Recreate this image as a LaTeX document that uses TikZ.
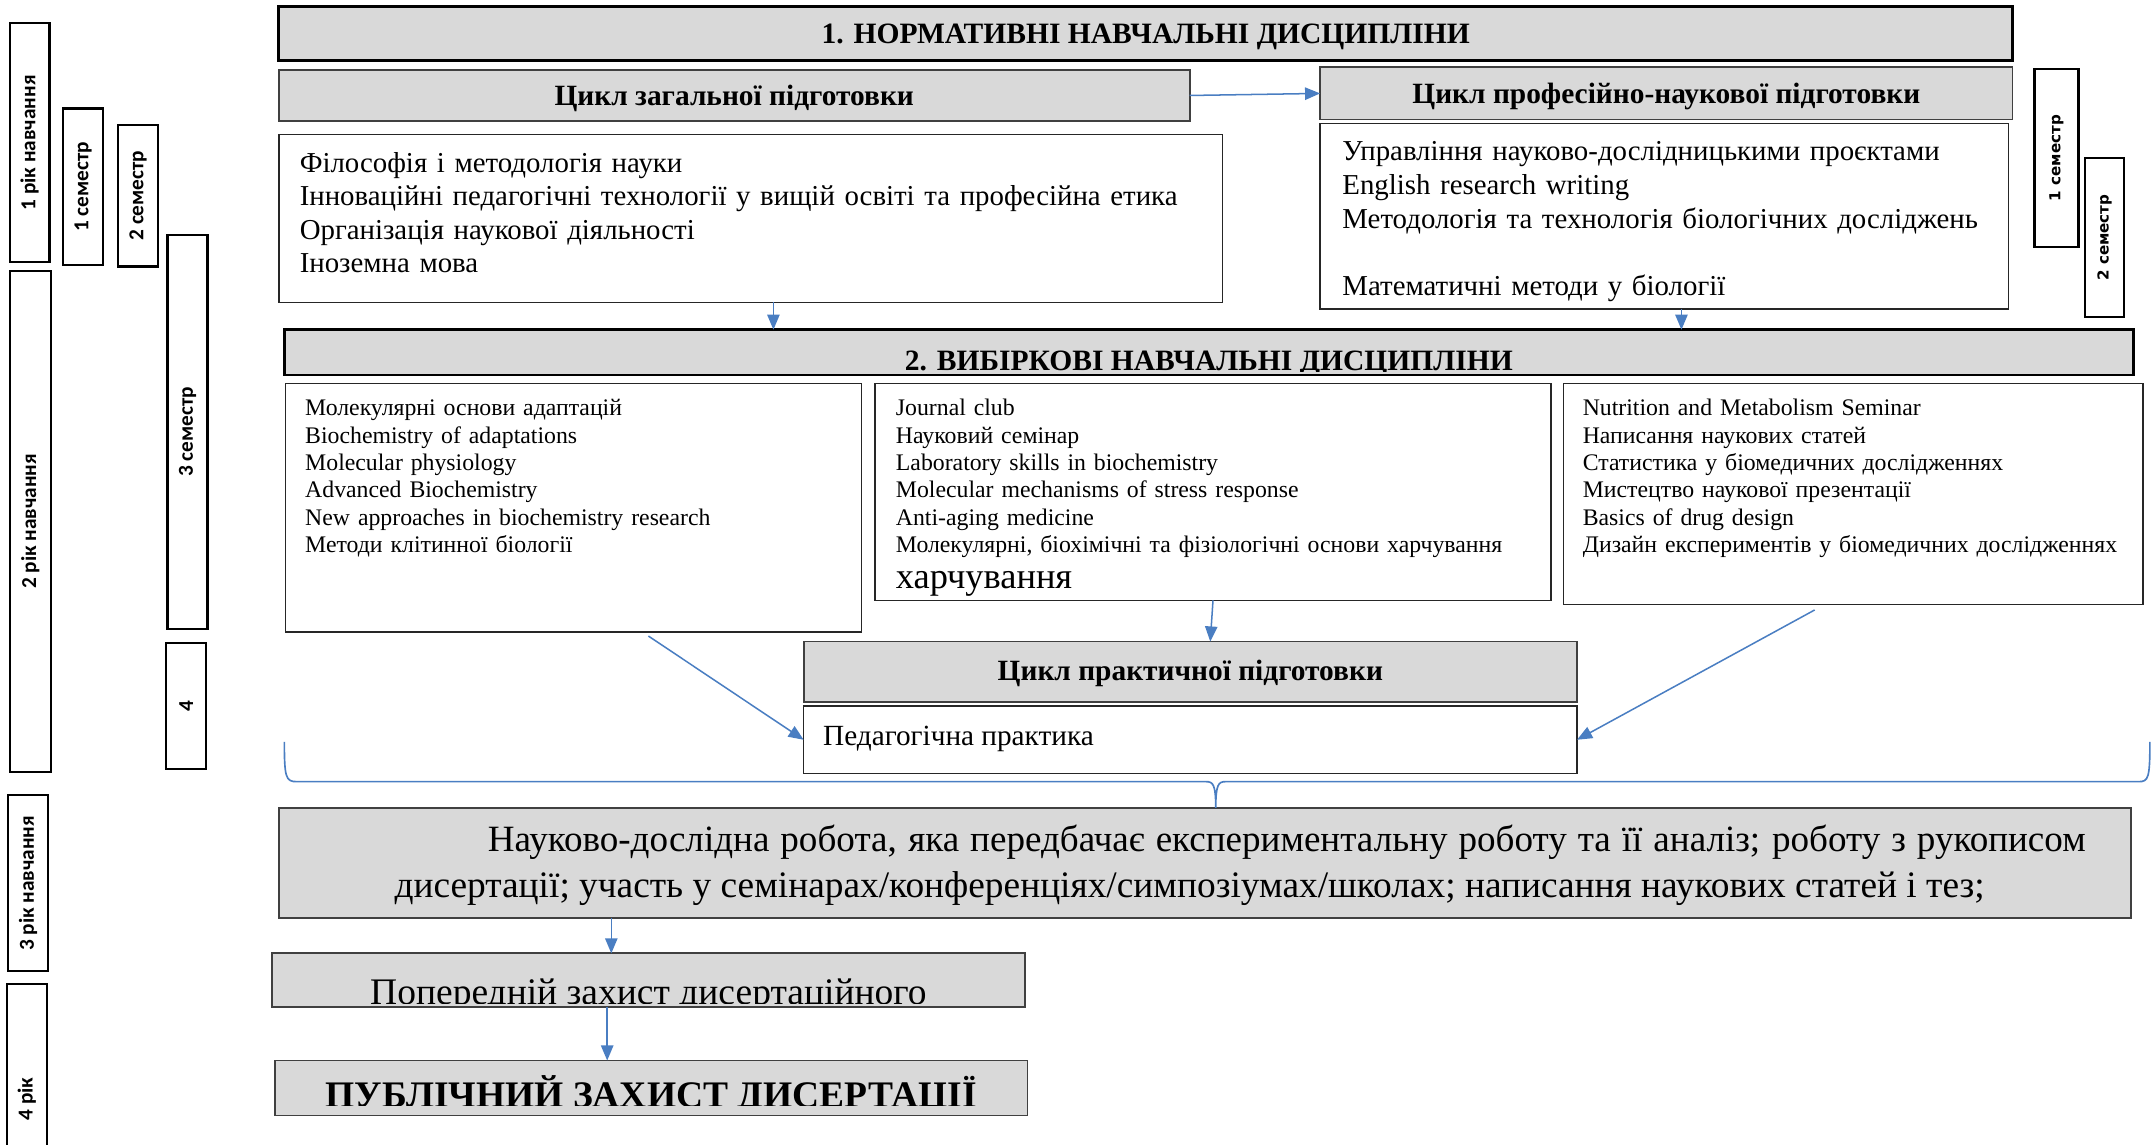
\documentclass[tikz,border=0pt]{standalone}
\usepackage{fontspec}
\setmainfont{Liberation Serif}
\newfontfamily\sidefont{Carlito}
\newfontfamily\rsidefont{DejaVu Sans}
\usetikzlibrary{arrows.meta,fit}
\definecolor{gfill}{HTML}{D9D9D9}
\definecolor{arrblue}{HTML}{4A7EC2}
\begin{document}
\begin{tikzpicture}[x=1pt,y=-1pt,
  gbox/.style={draw=black!75, fill=gfill, line width=1.3pt, inner sep=0pt, outer sep=0pt},
  hbox/.style={draw=black, fill=gfill, line width=2pt, inner sep=0pt, outer sep=0pt},
  wbox/.style={draw=black!85, fill=white, line width=1pt, inner sep=0pt, outer sep=0pt},
  sidebox/.style={draw=black, line width=1.6pt, inner sep=0pt, outer sep=0pt, rotate=90,
     font=\sidefont\bfseries\fontsize{15.5}{16}\selectfont},
  rsidebox/.style={draw=black, line width=1.6pt, inner sep=0pt, outer sep=0pt, rotate=90,
     font=\rsidefont\bfseries\fontsize{11}{12}\selectfont},
  arr/.style={draw=arrblue, line width=1.1pt, -{Triangle[length=11pt,width=9pt]}},
  bigtext/.style={inner sep=0pt, anchor=base west, align=left, text width=720pt,
     font=\fontsize{21}{24.3}\selectfont},
  smalltext/.style={inner sep=0pt, anchor=base west, align=left, text width=480pt,
     font=\fontsize{17.3}{20}\selectfont},
  htext/.style={inner sep=0pt, font=\bfseries\fontsize{21.5}{24}\selectfont},
  ctext/.style={inner sep=0pt, font=\bfseries\fontsize{21.4}{24}\selectfont}
]
\useasboundingbox (0,0) rectangle (1568,833);

% ---------- side labels ----------
\node[sidebox, minimum width=174pt, minimum height=29pt] (yr1) at (21.5,104) {1 рік навчання};
\node[sidebox, minimum width=365pt, minimum height=30pt] (yr2) at (22,379.5) {2 рік навчання};
\node[sidebox, minimum width=128pt, minimum height=29pt] (yr3) at (20.5,643) {3 рік навчання};
\node[sidebox, minimum width=168pt, minimum height=29pt] (yr4) at (19.5,800) {4 рік};
\node[sidebox, minimum width=114pt, minimum height=29pt] (sem1) at (60.5,136) {1 семестр};
\node[sidebox, minimum width=103pt, minimum height=29pt] (sem2) at (100.5,142.5) {2 семестр};
\node[sidebox, minimum width=287pt, minimum height=29pt] (sem3) at (136.5,314.5) {3 семестр};
\node[sidebox, minimum width=92pt, minimum height=29pt] (sem4) at (135.5,514) {4};
\node[rsidebox, minimum width=130pt, minimum height=32pt] (rsem1) at (1497,115) {1 семестр};
\node[rsidebox, minimum width=116pt, minimum height=28pt] (rsem2) at (1532,173) {2 семестр};

% ---------- section 1 ----------
\node[hbox, fit={(203,5) (1465,44)}] (h1) {};
\node[htext] (h1t) at ([yshift=-2.5pt]h1.center) {1. НОРМАТИВНІ НАВЧАЛЬНІ ДИСЦИПЛІНИ};
\node[gbox, fit={(203,51) (866,88)}] (gen) {};
\node[ctext] (gent) at ([yshift=-2.5pt]gen.center) {Цикл загальної підготовки};
\node[gbox, fit={(961,49) (1465,87)}] (prof) {};
\node[ctext] (proft) at ([yshift=-2.5pt]prof.center) {Цикл професійно-наукової підготовки};

\node[wbox, fit={(203,98) (890,220)}] (genlist) {};
\node[bigtext] (genlistt) at (218,125.5) {Філософія і методологія науки\\
Інноваційні педагогічні технології у вищій освіті та професійна етика\\
Організація наукової діяльності\\
Іноземна мова};

\node[wbox, fit={(961,90) (1462,225)}] (proflist) {};
\node[bigtext, font=\fontsize{21}{24.5}\selectfont] (proflistt) at (977,117) {Управління науково-дослідницькими проєктами\\
English research writing\\
Методологія та технологія біологічних досліджень\\
\mbox{}\\
Математичні методи у біології};

% ---------- section 2 ----------
\node[hbox, fit={(207,240) (1553,273)}] (h2) {};
\begin{scope}
  \clip (207,240) rectangle (1553,270.5);
  \node[htext, font=\bfseries\fontsize{21.5}{24}\selectfont, anchor=base] (h2t) at (880,270) {2. ВИБІРКОВІ НАВЧАЛЬНІ ДИСЦИПЛІНИ};
\end{scope}

\node[wbox, fit={(208,279) (627,460)}] (la) {};
\node[smalltext] (lat) at (222,302.5) {Молекулярні основи адаптацій\\
Biochemistry of adaptations\\
Molecular physiology\\
Advanced Biochemistry\\
New approaches in biochemistry research\\
Методи клітинної біології};

\node[wbox, fit={(637,279) (1129,437)}] (lb) {};
\node[smalltext] (lbt) at (652,302.5) {Journal club\\
Науковий семінар\\
Laboratory skills in biochemistry\\
Molecular mechanisms of stress response\\
Anti-aging medicine\\
Молекулярні, біохімічні та фізіологічні основи харчування};
\node[inner sep=0pt, anchor=base west, font=\fontsize{26.5}{28}\selectfont] (lbx) at (652,428.5) {харчування};

\node[wbox, fit={(1138,279) (1560,440)}] (lc) {};
\node[smalltext] (lct) at (1152,302.5) {Nutrition and Metabolism Seminar\\
Написання наукових статей\\
Статистика у біомедичних дослідженнях\\
Мистецтво наукової презентації\\
Basics of drug design\\
Дизайн експериментів у біомедичних дослідженнях};

% ---------- practical ----------
\node[gbox, fit={(585,467) (1148,511)}] (prac) {};
\node[ctext] (pract) at ([yshift=-1.5pt]prac.center) {Цикл практичної підготовки};
\node[wbox, fit={(585,514) (1148,563)}] (ped) {};
\node[inner sep=0pt, anchor=base west, font=\fontsize{21.3}{24}\selectfont] (pedt) at (599,542.5) {Педагогічна практика};

% ---------- research ----------
\node[gbox, fit={(203,588) (1551,668)}] (res) {};
\node[inner sep=0pt, anchor=base west, font=\fontsize{27}{34}\selectfont] (res1) at (355,619.5)
  {\makebox[1163pt][s]{Науково-дослідна робота, яка передбачає експериментальну роботу та її аналіз; роботу з рукописом}};
\node[inner sep=0pt, anchor=base west, font=\fontsize{27.2}{34}\selectfont] (res2) at (287,653.5)
  {дисертації; участь у семінарах/конференціях/симпозіумах/школах; написання наукових статей і тез;};

% ---------- defence ----------
\node[gbox, fit={(198,694) (746,733)}] (pre) {};
\begin{scope}
  \clip (198,694) rectangle (746,730.5);
  \node[inner sep=0pt, anchor=base, font=\fontsize{27.3}{29}\selectfont] (pret) at (472,731) {Попередній захист дисертаційного};
\end{scope}
\node[gbox, fit={(200,772) (748,812)}] (pub) {};
\begin{scope}
  \clip (200,772) rectangle (748,805);
  \node[inner sep=0pt, anchor=base, font=\bfseries\fontsize{27.3}{29}\selectfont] (pubt) at (474,806) {ПУБЛІЧНИЙ ЗАХИСТ ДИСЕРТАЦІЇ};
\end{scope}

% ---------- connectors ----------
\coordinate (gx) at (563,0);
\coordinate (px) at (1224,0);
\coordinate (rx) at (445,0);
\coordinate (qx) at (442,0);
\coordinate (laout) at (472,463);
\coordinate (lcout) at (1321,444);
\coordinate (tip) at (885,588);

\draw[arr] (gen.east) -- (prof.west);
\draw[arr] (genlist.south -| gx) -- (h2.north -| gx);
\draw[arr] (proflist.south -| px) -- (h2.north -| px);
\draw[arr] (lb.south) -- ([xshift=-2pt]lb.south |- prac.north);
\draw[arr] (laout) -- (ped.west);
\draw[arr] (lcout) -- (ped.east);
\draw[arr] (res.south -| rx) -- (pre.north -| rx);
\draw[arr] (pre.south -| qx) -- (pub.north -| qx);

% brace
\draw[draw=arrblue, line width=1.2pt]
  (207,540) .. controls (207,566) and (208,569) .. (216,569) -- (878,569)
  .. controls (883,569) and (885,571) .. (tip)
  .. controls (885,571) and (887,569) .. (892,569) -- (1557,569)
  .. controls (1564,569) and (1565,566) .. (1565,540);
\end{tikzpicture}
\end{document}
